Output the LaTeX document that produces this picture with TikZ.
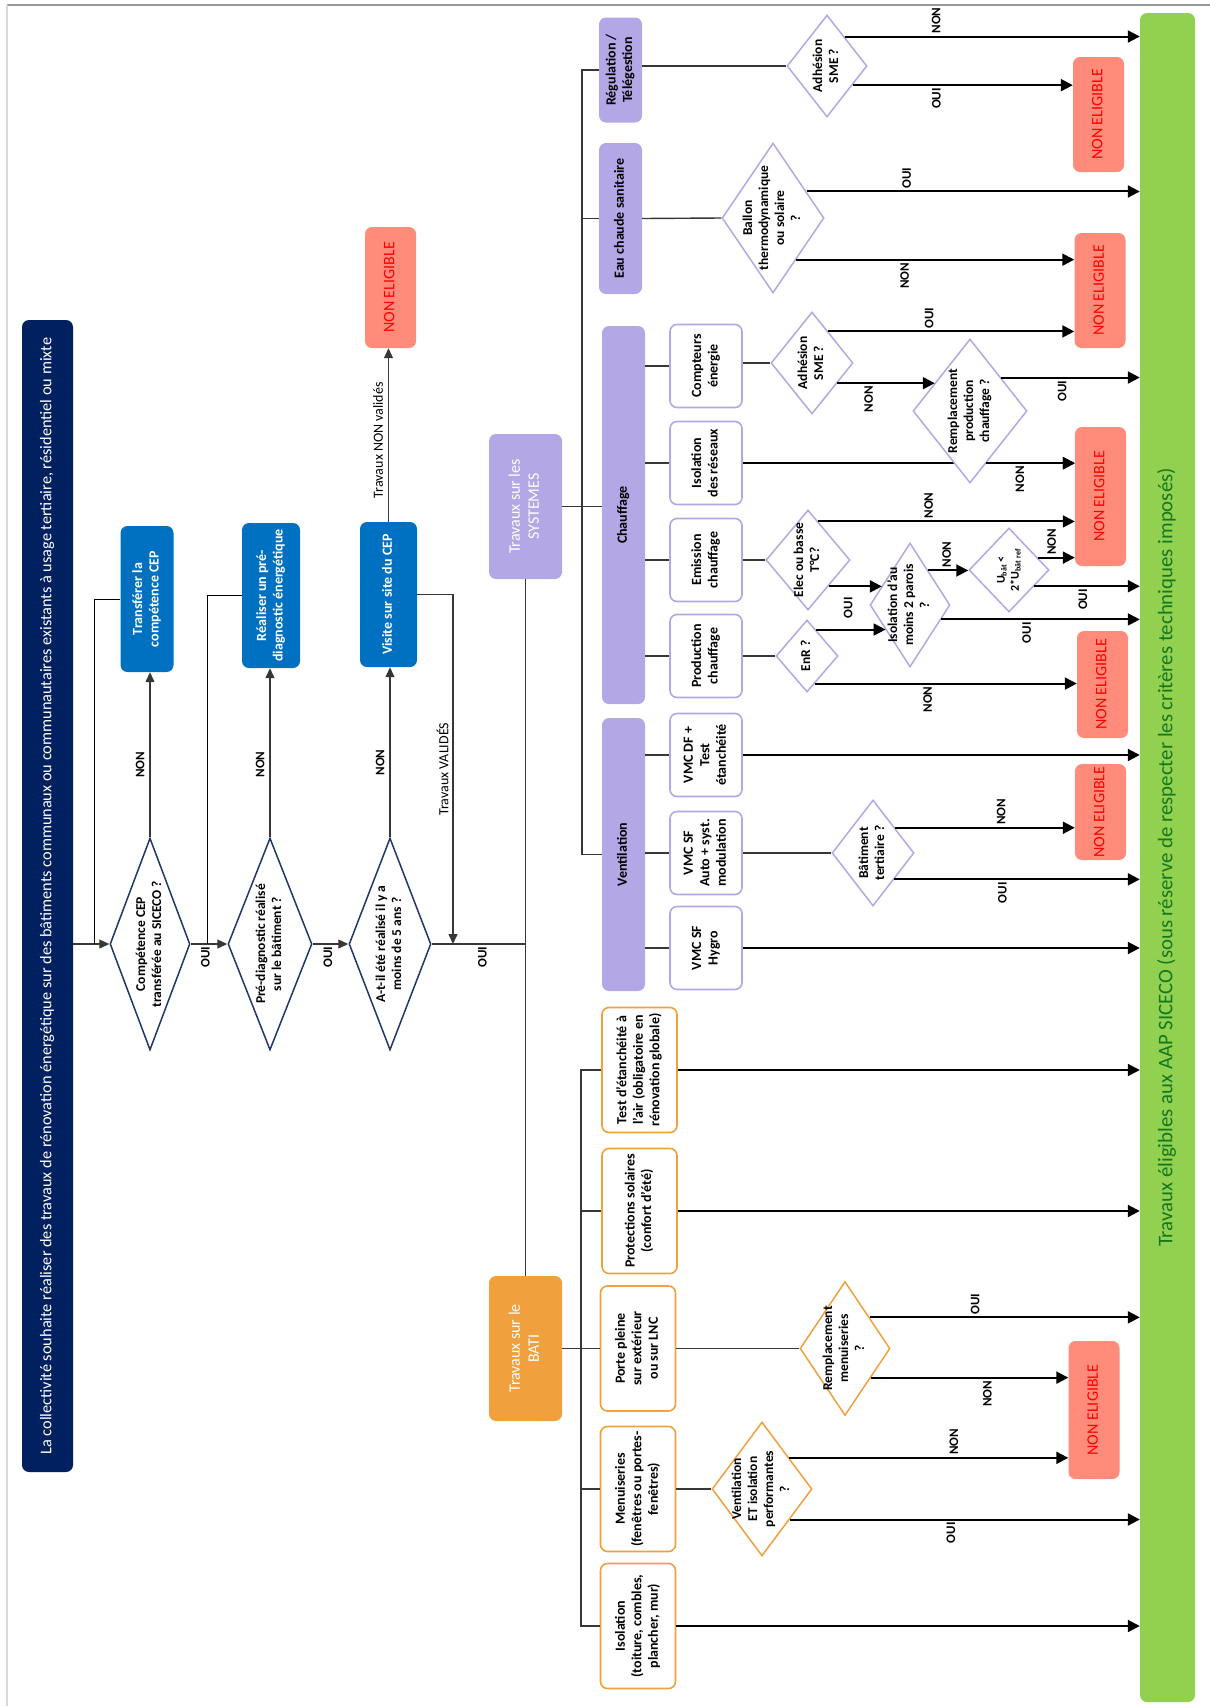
\documentclass[tikz,border=0pt]{standalone}
\usepackage{fontspec}
\setmainfont{Carlito}
\usepackage{graphicx}
\usetikzlibrary{shapes.geometric,arrows.meta,calc,backgrounds}

\definecolor{navy}{RGB}{0,32,96}
\definecolor{cepblue}{RGB}{0,112,192}
\definecolor{lilas}{RGB}{180,167,230}
\definecolor{saumon}{RGB}{255,140,122}
\definecolor{orangebati}{RGB}{240,160,60}
\definecolor{vertaap}{RGB}{146,208,80}
\definecolor{vertfonce}{RGB}{20,120,30}
\definecolor{losnavy}{RGB}{31,56,100}
\definecolor{filgris}{RGB}{55,55,55}

\newcommand{\rtxt}[1]{\makebox[0pt]{\raisebox{-.5\height}[0pt][0pt]{\rotatebox{90}{\begin{tabular}{@{}c@{}}#1\end{tabular}}}}}
\newcommand{\rlab}[1]{\rotatebox{90}{#1}}

\begin{document}
\begin{tikzpicture}[x=1pt, y=-1pt,
    boite/.style={rectangle, rounded corners=7pt, inner sep=0pt},
    titre/.style={boite, fill=navy, text=white, font=\fontsize{16.3}{19}\selectfont},
    bleu/.style={boite, fill=cepblue, text=white, font=\fontsize{14}{16.5}\selectfont\bfseries},
    nonelig/.style={boite, fill=saumon, text=red, minimum width=51pt, font=\fontsize{16}{19}\selectfont},
    grosbloc/.style={boite, minimum width=73pt, minimum height=145pt, text=white, font=\fontsize{16}{19}\selectfont},
    lilasbox/.style={boite, fill=lilas, minimum width=43pt, font=\fontsize{14}{16.5}\selectfont\bfseries},
    sousbox/.style={boite, draw=lilas, line width=1.6pt, fill=white, minimum width=72pt, minimum height=83pt, font=\fontsize{14}{16.5}\selectfont\bfseries},
    batibox/.style={boite, draw=orangebati, line width=1.6pt, fill=white, minimum width=75pt, minimum height=125pt, font=\fontsize{14}{16.5}\selectfont\bfseries},
    losange/.style={diamond, inner sep=0pt, fill=white, line width=1.5pt, font=\fontsize{13.5}{16}\selectfont\bfseries},
    fleche/.style={draw=filgris, line width=1.3pt, -{Triangle[length=10pt,width=9pt]}},
    fleche2/.style={draw=black, line width=2pt, -{Triangle[length=12pt,width=12pt]}},
    trait/.style={draw=filgris, line width=1.4pt},
    etiq/.style={inner sep=2pt, font=\fontsize{13}{15}\selectfont\bfseries},
    etiqtxt/.style={inner sep=2pt, font=\fontsize{14}{16}\selectfont}
]
    \useasboundingbox (0,0) rectangle (1210,1706);
    \draw[black!40, line width=1.5pt] (7,5) -- (1210,5);
    \draw[black!15, line width=1.5pt] (7,5) -- (7,1706);

    \node[titre, minimum width=51pt, minimum height=1152pt] (titre) at (47.5,896)
        {\rtxt{La collectivité souhaite réaliser des travaux de rénovation énergétique sur des bâtiments communaux ou communautaires existants à usage tertiaire, résidentiel ou mixte}};
    \node[boite, fill=vertaap, minimum width=55pt, minimum height=1689pt, text=vertfonce, font=\fontsize{20.8}{24}\selectfont] (eligible) at (1167.5,857.5)
        {\rtxt{Travaux éligibles aux AAP SICECO (sous réserve de respecter les critères techniques imposés)}};

    \node[bleu, minimum width=53pt, minimum height=146pt] (transf) at (147,599) {\rtxt{Transférer la\\compétence CEP}};
    \node[bleu, minimum width=58pt, minimum height=145pt] (prediag) at (271,595.5) {\rtxt{Réaliser un pré-\\diagnostic énergétique}};
    \node[bleu, minimum width=57pt, minimum height=145pt] (visite) at (388.5,594.5) {\rtxt{Visite sur site du CEP}};

    \node[losange, draw=losnavy, minimum width=80pt, minimum height=212pt] (qcep) at (150,944) {\rtxt{Compétence CEP\\transférée au SICECO ?}};
    \node[losange, draw=losnavy, minimum width=84pt, minimum height=212pt] (qprediag) at (270,944) {\rtxt{Pré-diagnostic réalisé\\sur le bâtiment ?}};
    \node[losange, draw=losnavy, minimum width=82pt, minimum height=212pt] (qcinq) at (390,944) {\rtxt{A-t-il été réalisé il y a\\moins de 5 ans ?}};

    \foreach \n/\x/\y/\h in {0/390.5/287.5/121, 1/1098.5/114.5/115, 2/1100/290.5/115, 3/1100.5/496.5/139, 4/1102.5/684.5/107, 5/1100.5/812/96, 6/1094/1410/138}
        \node[nonelig, minimum height=\h*1pt] (ne\n) at (\x,\y) {\rtxt{NON ELIGIBLE}};

    \node[grosbloc, fill=lilas] (systemes) at (525.5,506.5) {\rtxt{Travaux sur les\\SYSTEMES}};
    \node[grosbloc, fill=orangebati] (bati) at (525.5,1348.5) {\rtxt{Travaux sur le\\BATI}};
    \node[lilasbox, minimum height=105pt] (regul) at (620.5,70) {\rtxt{Régulation /\\Télégestion}};
    \node[lilasbox, minimum height=151pt] (ecs) at (620.5,218.5) {\rtxt{Eau chaude sanitaire}};
    \node[lilasbox, minimum height=378pt] (chauff) at (623.5,515) {\rtxt{Chauffage}};
    \node[lilasbox, minimum height=273pt] (ventil) at (623.5,854.5) {\rtxt{Ventilation}};

    \node[sousbox] (compteurs) at (706,366) {\rtxt{Compteurs\\énergie}};
    \node[sousbox] (isolres) at (706,463) {\rtxt{Isolation\\des réseaux}};
    \node[sousbox] (emission) at (706,560) {\rtxt{Emission\\chauffage}};
    \node[sousbox] (production) at (706,656) {\rtxt{Production\\chauffage}};
    \node[sousbox] (vmcdf) at (706,755) {\rtxt{VMC DF +\\Test\\étanchéité}};
    \node[sousbox] (vmcauto) at (706,853) {\rtxt{VMC SF\\Auto + syst.\\modulation}};
    \node[sousbox] (vmchygro) at (706,948) {\rtxt{VMC SF\\Hygro}};

    \node[batibox] (etanch) at (639.5,1070) {\rtxt{Test d’étanchéité à\\l’air (obligatoire en\\rénovation globale)}};
    \node[batibox] (protsol) at (639.5,1211) {\rtxt{Protections solaires\\(confort d’été)}};
    \node[batibox] (porte) at (638,1348.5) {\rtxt{Porte pleine\\sur extérieur\\ou sur LNC}};
    \node[batibox] (menuis) at (638,1489) {\rtxt{Menuiseries\\(fenêtres ou portes-\\fenêtres)}};
    \node[batibox] (isolation) at (638,1626) {\rtxt{Isolation\\(toiture, combles,\\plancher, mur)}};

    \node[losange, draw=lilas, minimum width=80pt, minimum height=102pt] (sme1) at (827,66) {\rtxt{Adhésion\\SME ?}};
    \node[losange, draw=lilas, minimum width=102pt, minimum height=150pt] (ballon) at (773,218) {\rtxt{Ballon\\thermodynamique\\ou solaire\\?}};
    \node[losange, draw=lilas, minimum width=82pt, minimum height=102pt] (sme2) at (812,363) {\rtxt{Adhésion\\SME ?}};
    \node[losange, draw=lilas, minimum width=114pt, minimum height=144pt] (rempprod) at (970,411) {\rtxt{Remplacement\\production\\chauffage ?}};
    \node[losange, draw=lilas, minimum width=84pt, minimum height=100pt] (elec) at (808,560) {\rtxt{Elec ou basse\\T°C?}};
    \node[losange, draw=lilas, minimum width=80pt, minimum height=124pt] (parois) at (910,605) {\rtxt{Isolation d’au\\moins 2 parois\\?}};
    \node[losange, draw=lilas, minimum width=80pt, minimum height=84pt, font=\fontsize{12}{14}\selectfont\bfseries] (ubat) at (1009,570) {\rtxt{U\textsubscript{bât} <\\2*U\textsubscript{bât ref}}};
    \node[losange, draw=lilas, minimum width=62pt, minimum height=72pt] (enr) at (807,656) {\rtxt{EnR ?}};
    \node[losange, draw=lilas, minimum width=82pt, minimum height=106pt] (tertiaire) at (873,853) {\rtxt{Bâtiment\\tertiaire ?}};
    \node[losange, draw=orangebati, minimum width=90pt, minimum height=134pt] (rempmen) at (845,1348.5) {\rtxt{Remplacement\\menuiseries\\?}};
    \node[losange, draw=orangebati, minimum width=100pt, minimum height=134pt] (ventiso) at (762,1489) {\rtxt{Ventilation\\ET isolation\\performantes\\?}};

    \coordinate (j1) at (94,944);
    \coordinate (j2) at (207,944);
    \coordinate (j3) at (453,944);
    \coordinate (sbus) at (582,0);
    \coordinate (bbus) at (581,0);

    \draw[fleche] (qcep.west -| titre.east) -- (qcep.west);
    \draw[draw=black, line width=1pt] (transf.west) -| (j1);
    \draw[fleche] (qcep.north) -- (qcep.north |- transf.south) node[etiq, pos=.44, left=3pt] {\rlab{NON}};
    \draw[fleche] (qcep.east) -- (qprediag.west) node[etiq, pos=.4, below] {\rlab{OUI}};
    \draw[draw=black, line width=1pt] (prediag.west) -| (j2);
    \draw[fleche] (qprediag.north) -- (qprediag.north |- prediag.south) node[etiq, pos=.43, left=3pt] {\rlab{NON}};
    \draw[fleche] (qprediag.east) -- (qcinq.west) node[etiq, pos=.43, below] {\rlab{OUI}};
    \draw[fleche] (qcinq.north) -- (qcinq.north |- visite.south) node[etiq, pos=.44, left=3pt] {\rlab{NON}};
    \draw[fleche] (visite.north) -- (visite.north |- ne0.south) node[etiqtxt, pos=.47, left=3pt] {\rlab{Travaux NON validés}};
    \draw[fleche] (visite.east) -| (j3) node[etiqtxt, pos=.75, left=2pt] {\rlab{Travaux VALIDÉS}};
    \draw[trait] (qcinq.east) -- (qcinq.east -| systemes.south) node[etiq, pos=.54, below] {\rlab{OUI}};
    \draw[trait] (systemes.south) -- (bati.north);

    \draw[trait] (systemes.east) -- (systemes.east -| chauff.west);
    \draw[trait] (regul.west) -- (regul.west -| sbus) |- (ventil.west);
    \draw[trait] (ecs.west) -- (ecs.west -| sbus);
    \foreach \b in {compteurs,isolres,emission,production}
        \draw[trait] (\b.west -| chauff.east) -- (\b.west);
    \foreach \b in {vmcdf,vmcauto,vmchygro}
        \draw[trait] (\b.west -| ventil.east) -- (\b.west);
    \draw[trait] (sme1.west -| regul.east) -- (sme1.west);
    \draw[trait] (ecs.east) -- (ballon.west);
    \draw[trait] (compteurs.east |- sme2.west) -- (sme2.west);
    \draw[trait] (emission.east) -- (elec.west);
    \draw[trait] (production.east) -- (enr.west);
    \draw[trait] (vmcauto.east) -- (tertiaire.west);

    \draw[trait] (bati.east) -- (porte.west);
    \draw[trait] (etanch.west) -- (etanch.west -| bbus) |- (isolation.west);
    \draw[trait] (protsol.west) -- (protsol.west -| bbus);
    \draw[trait] (menuis.west) -- (menuis.west -| bbus);
    \draw[trait] (porte.east) -- (rempmen.west);
    \draw[trait] (menuis.east) -- (ventiso.west);

    \coordinate (s1h) at ($(sme1.north)!.43!(sme1.east)$);
    \coordinate (s1b) at ($(sme1.east)!.37!(sme1.south)$);
    \coordinate (bah) at ($(ballon.north)!.65!(ballon.east)$);
    \coordinate (bab) at ($(ballon.east)!.55!(ballon.south)$);
    \coordinate (s2h) at ($(sme2.north)!.39!(sme2.east)$);
    \coordinate (s2b) at ($(sme2.east)!.39!(sme2.south)$);
    \coordinate (rph) at ($(rempprod.north)!.54!(rempprod.east)$);
    \coordinate (rpb) at ($(rempprod.east)!.72!(rempprod.south)$);
    \coordinate (rpw) at ($(rempprod.west)!.39!(rempprod.north)$);
    \coordinate (elh) at ($(elec.north)!.24!(elec.east)$);
    \coordinate (elb) at ($(elec.east)!.52!(elec.south)$);
    \coordinate (pah) at ($(parois.north)!.45!(parois.east)$);
    \coordinate (pab) at ($(parois.east)!.23!(parois.south)$);
    \coordinate (paw1) at ($(parois.west)!.31!(parois.north)$);
    \coordinate (paw2) at ($(parois.west)!.40!(parois.south)$);
    \coordinate (ubh) at ($(ubat.north)!.71!(ubat.east)$);
    \coordinate (ubb) at ($(ubat.east)!.38!(ubat.south)$);
    \coordinate (enh) at ($(enr.north)!.28!(enr.east)$);
    \coordinate (enb) at ($(enr.east)!.75!(enr.south)$);
    \coordinate (teh) at ($(tertiaire.north)!.53!(tertiaire.east)$);
    \coordinate (teb) at ($(tertiaire.east)!.49!(tertiaire.south)$);
    \coordinate (rmh) at ($(rempmen.north)!.54!(rempmen.east)$);
    \coordinate (rmb) at ($(rempmen.east)!.43!(rempmen.south)$);
    \coordinate (veh) at ($(ventiso.north)!.54!(ventiso.east)$);
    \coordinate (veb) at ($(ventiso.east)!.45!(ventiso.south)$);

    \draw[fleche2] (s1h) -- (s1h -| eligible.west) node[etiq, pos=.31, above] {\rlab{NON}};
    \draw[fleche2] (s1b) -- (s1b -| ne1.west) node[etiq, pos=.38, below] {\rlab{OUI}};
    \draw[fleche2] (bah) -- (bah -| eligible.west) node[etiq, pos=.3, above] {\rlab{OUI}};
    \draw[fleche2] (bab) -- (bab -| ne2.west) node[etiq, pos=.39, below] {\rlab{NON}};
    \draw[fleche2] (s2h) -- (s2h -| ne2.west) node[etiq, pos=.41, above] {\rlab{OUI}};
    \draw[fleche2] (s2b) -- (s2b -| rpw) node[etiq, pos=.32, below] {\rlab{NON}};
    \draw[fleche2] (rph) -- (rph -| eligible.west) node[etiq, pos=.44, below] {\rlab{OUI}};
    \draw[fleche2] (rpb) -- (rpb -| ne3.west) node[etiq, pos=.38, below] {\rlab{NON}};
    \draw[fleche2] (elh) -- (elh -| ne3.west) node[etiq, pos=.43, above] {\rlab{NON}};
    \draw[fleche2] (elb) -- (elb -| paw1) node[etiq, pos=.37, below=8pt] {\rlab{OUI}};
    \draw[fleche2] (pah) -- (pah -| ubat.west) node[etiq, pos=.46, above] {\rlab{NON}};
    \draw[fleche2] (pab) -- (pab -| eligible.west) node[etiq, pos=.43, below] {\rlab{OUI}};
    \draw[fleche2] (ubh) -- (ubh -| ne3.west) node[etiq, pos=.37, above] {\rlab{NON}};
    \draw[fleche2] (ubb) -- (ubb -| eligible.west) node[etiq, pos=.46, below] {\rlab{OUI}};
    \draw[fleche2] (enh) -- (enh -| paw2);
    \draw[fleche2] (enb) -- (enb -| ne4.west) node[etiq, pos=.43, below] {\rlab{NON}};
    \draw[fleche2] (teh) -- (teh -| ne5.west) node[etiq, pos=.59, above] {\rlab{NON}};
    \draw[fleche2] (teb) -- (teb -| eligible.west) node[etiq, pos=.44, below] {\rlab{OUI}};
    \draw[fleche2] (rmh) -- (rmh -| eligible.west) node[etiq, pos=.39, above] {\rlab{OUI}};
    \draw[fleche2] (rmb) -- (rmb -| ne6.west) node[etiq, pos=.59, below] {\rlab{NON}};
    \draw[fleche2] (veh) -- (veh -| ne6.west) node[etiq, pos=.59, above] {\rlab{NON}};
    \draw[fleche2] (veb) -- (veb -| eligible.west) node[etiq, pos=.46, below] {\rlab{OUI}};

    \foreach \b in {vmcdf,vmchygro,etanch,protsol,isolation}
        \draw[fleche2] (\b.east) -- (\b.east -| eligible.west);
    \begin{scope}[on background layer]
        \draw[fleche2] (isolres.east) -- (isolres.east -| ne3.west);
    \end{scope}
\end{tikzpicture}
\end{document}
